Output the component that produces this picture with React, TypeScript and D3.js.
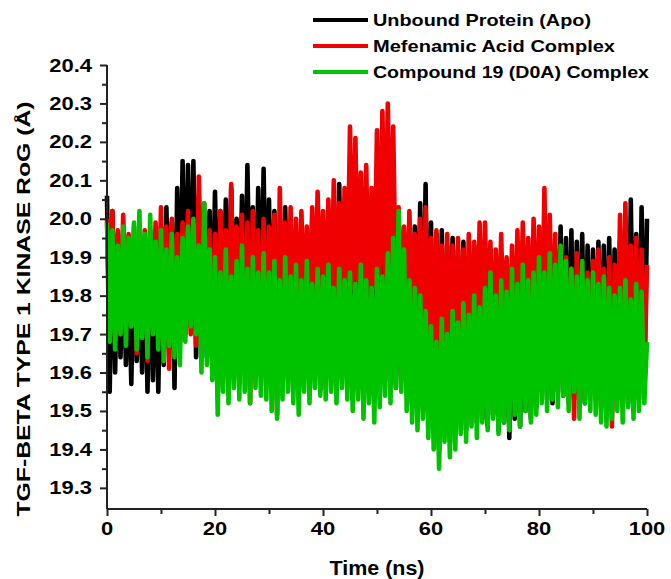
import * as d3 from 'd3';
import React, { useRef, useEffect } from 'react';

// RoG values every 0.5 ns (0 .. 100 ns)
const apo = [
  20.06, 19.55, 20.02, 19.60, 19.96, 19.64, 19.93, 19.62, 19.90, 19.57,
  19.94, 19.63, 19.92, 19.60, 19.95, 19.55, 19.97, 19.58, 19.93, 19.55,
  19.98, 19.62, 20.03, 19.66, 19.99, 19.56, 20.08, 19.68, 20.15, 19.70,
  20.14, 19.72, 20.15, 19.64, 20.06, 19.66, 19.99, 19.64, 20.02, 19.68,
  20.07, 19.70, 20.02, 19.66, 20.05, 19.68, 20.08, 19.72, 20.00, 19.70,
  20.06, 19.68, 20.14, 19.72, 20.03, 19.66, 20.08, 19.70, 20.13, 19.68,
  20.05, 19.64, 20.02, 19.60, 19.98, 19.62, 20.03, 19.66, 19.97, 19.64,
  19.96, 19.62, 19.98, 19.60, 19.95, 19.58, 19.99, 19.63, 20.00, 19.555,
  19.98, 19.62, 19.96, 19.60, 20.01, 19.64, 20.09, 19.60, 19.98, 19.58,
  19.97, 19.53, 19.99, 19.60, 19.96, 19.62, 20.00, 19.58, 19.98, 19.60,
  19.97, 19.62, 20.00, 19.58, 19.96, 19.60, 19.98, 19.56, 19.95, 19.58,
  19.96, 19.56, 19.94, 19.52, 19.98, 19.58, 20.04, 19.55, 20.09, 19.50,
  19.99, 19.45, 19.96, 19.40, 19.97, 19.44, 19.93, 19.42, 19.95, 19.46,
  19.92, 19.48, 19.94, 19.45, 19.90, 19.50, 19.93, 19.47, 19.91, 19.48,
  19.90, 19.46, 19.92, 19.49, 19.88, 19.45, 19.91, 19.47, 19.89, 19.43,
  19.88, 19.48, 19.90, 19.46, 19.88, 19.50, 19.92, 19.48, 19.90, 19.51,
  19.93, 19.55, 19.91, 19.53, 19.94, 19.52, 19.92, 19.55, 19.98, 19.54,
  19.95, 19.56, 19.97, 19.53, 19.94, 19.55, 19.96, 19.52, 19.93, 19.55,
  19.92, 19.53, 19.94, 19.51, 19.93, 19.54, 19.95, 19.50, 19.92, 19.53,
  19.94, 19.54, 19.98, 19.52, 20.05, 19.55, 19.96, 19.53, 20.03, 19.56,
  20.00
];

const mefenamic = [
  20.00, 19.72, 20.02, 19.68, 19.97, 19.70, 20.01, 19.75, 19.96, 19.72,
  19.98, 19.65, 19.94, 19.70, 19.97, 19.63, 19.95, 19.72, 19.99, 19.68,
  20.03, 19.66, 19.98, 19.61, 20.00, 19.70, 19.96, 19.68, 19.99, 19.72,
  20.02, 19.70, 19.98, 19.67, 20.11, 19.74, 20.04, 19.68, 19.97, 19.62,
  19.96, 19.60, 20.02, 19.65, 19.97, 19.62, 20.09, 19.70, 19.98, 19.57,
  20.01, 19.64, 19.99, 19.52, 20.02, 19.66, 19.97, 19.60, 20.00, 19.65,
  19.98, 19.62, 20.01, 19.49, 20.08, 19.70, 19.99, 19.66, 20.03, 19.72,
  20.00, 19.70, 20.02, 19.74, 19.98, 19.72, 20.03, 19.75, 20.07, 19.78,
  20.02, 19.76, 20.05, 19.73, 20.10, 19.78, 20.04, 19.75, 20.08, 19.80,
  20.24, 19.82, 20.21, 19.78, 20.12, 19.80, 20.14, 19.76, 20.08, 19.82,
  20.23, 19.80, 20.28, 19.84, 20.30, 19.86, 20.24, 19.78, 20.03, 19.75,
  19.98, 19.72, 20.02, 19.70, 19.96, 19.68, 20.00, 19.66, 20.03, 19.70,
  19.95, 19.62, 19.97, 19.58, 19.93, 19.60, 19.96, 19.64, 19.93, 19.61,
  19.95, 19.63, 19.92, 19.60, 19.96, 19.66, 19.94, 19.62, 19.99, 19.65,
  19.99, 19.68, 19.94, 19.64, 19.92, 19.66, 19.96, 19.62, 19.90, 19.60,
  19.93, 19.63, 19.97, 19.66, 19.99, 19.68, 19.95, 19.65, 20.00, 19.64,
  19.98, 19.62, 20.08, 19.66, 20.01, 19.60, 19.96, 19.58, 19.92, 19.55,
  19.90, 19.52, 19.87, 19.48, 19.91, 19.56, 19.88, 19.53, 19.86, 19.55,
  19.89, 19.58, 19.92, 19.54, 19.87, 19.50, 19.90, 19.46, 19.88, 19.55,
  20.01, 19.58, 20.04, 19.62, 19.93, 19.56, 19.95, 19.60, 19.92, 19.58,
  19.88
];

const compound19 = [
  19.99, 19.68, 19.97, 19.66, 19.93, 19.70, 19.98, 19.67, 19.95, 19.72,
  19.99, 19.66, 20.02, 19.69, 19.96, 19.64, 20.01, 19.70, 19.94, 19.66,
  19.97, 19.63, 19.92, 19.67, 19.96, 19.64, 19.90, 19.62, 19.95, 19.68,
  19.98, 19.72, 20.00, 19.70, 19.93, 19.60, 20.04, 19.62, 19.92, 19.58,
  19.90, 19.49, 19.86, 19.55, 19.92, 19.52, 19.85, 19.56, 19.89, 19.53,
  19.93, 19.55, 19.87, 19.52, 19.90, 19.56, 19.86, 19.54, 19.91, 19.53,
  19.86, 19.50, 19.89, 19.48, 19.84, 19.53, 19.90, 19.55, 19.85, 19.52,
  19.88, 19.49, 19.84, 19.55, 19.89, 19.52, 19.83, 19.56, 19.87, 19.54,
  19.85, 19.53, 19.88, 19.55, 19.82, 19.52, 19.87, 19.56, 19.84, 19.53,
  19.86, 19.50, 19.83, 19.53, 19.88, 19.48, 19.84, 19.52, 19.82, 19.47,
  19.87, 19.51, 19.85, 19.54, 19.91, 19.52, 19.95, 19.56, 20.02, 19.55,
  19.92, 19.50, 19.84, 19.47, 19.82, 19.45, 19.80, 19.48, 19.76, 19.43,
  19.72, 19.40, 19.68, 19.35, 19.74, 19.42, 19.70, 19.38, 19.76, 19.40,
  19.73, 19.44, 19.78, 19.42, 19.75, 19.46, 19.80, 19.43, 19.77, 19.47,
  19.82, 19.45, 19.86, 19.48, 19.80, 19.44, 19.84, 19.47, 19.81, 19.45,
  19.87, 19.49, 19.83, 19.46, 19.88, 19.50, 19.84, 19.47, 19.86, 19.49,
  19.90, 19.52, 19.86, 19.50, 19.91, 19.53, 19.88, 19.51, 19.93, 19.54,
  19.89, 19.50, 19.87, 19.55, 19.85, 19.48, 19.89, 19.52, 19.84, 19.50,
  19.86, 19.49, 19.83, 19.47, 19.85, 19.46, 19.82, 19.48, 19.80, 19.50,
  19.82, 19.47, 19.84, 19.51, 19.79, 19.48, 19.83, 19.50, 19.81, 19.52,
  19.68
];

const timeStep = 0.5;
const xTicks = [0, 20, 40, 60, 80, 100];
const xMinor = [10, 30, 50, 70, 90];
const yTicks = [19.3, 19.4, 19.5, 19.6, 19.7, 19.8, 19.9, 20.0, 20.1, 20.2, 20.3, 20.4];
const yMinor = [19.35, 19.45, 19.55, 19.65, 19.75, 19.85, 19.95, 20.05, 20.15, 20.25, 20.35];

const seriesNames = ['Unbound Protein (Apo)', 'Mefenamic Acid Complex', 'Compound 19 (D0A) Complex'];
const seriesColors = ['#000000', '#f00000', '#00c300'];
const legendWidths = [218, 242, 276];

const font = '"Liberation Sans", Arial, sans-serif';

function RogChart() {
  const ref = useRef(null);

  const x = d3.scaleLinear().domain([0, 100]).range([107, 647]);
  const y = d3.scaleLinear().domain([19.245, 20.4]).range([509, 65]);

  const line = d3.line()
    .x((d, i) => x(i * timeStep))
    .y((d) => y(d));

  useEffect(() => {
    const svg = d3.select(ref.current);
    svg.selectAll('.axis').remove();

    const yAxis = svg.append('g').attr('class', 'axis')
      .attr('transform', 'translate(107,0)')
      .call(d3.axisLeft(y).tickValues(yTicks).tickSize(7).tickFormat(() => ''));
    svg.append('g').attr('class', 'axis')
      .attr('transform', 'translate(107,0)')
      .call(d3.axisLeft(y).tickValues(yMinor).tickSize(5).tickFormat(() => ''))
      .select('.domain').remove();

    const xAxis = svg.append('g').attr('class', 'axis')
      .attr('transform', 'translate(0,509)')
      .call(d3.axisBottom(x).tickValues(xTicks).tickSize(7).tickFormat(() => ''));
    svg.append('g').attr('class', 'axis')
      .attr('transform', 'translate(0,509)')
      .call(d3.axisBottom(x).tickValues(xMinor).tickSize(5).tickFormat(() => ''))
      .select('.domain').remove();

    svg.selectAll('.axis path, .axis line')
      .attr('stroke', '#222')
      .attr('stroke-width', 2);
    yAxis.select('.domain').attr('d', 'M0,65V509');
    xAxis.select('.domain').attr('d', 'M107,0H647');

    // tick labels, slightly wide like the original
    yTicks.forEach((t) => {
      svg.append('text').attr('class', 'axis')
        .attr('transform', `translate(92,${y(t) + 6.5}) scale(1.22,1)`)
        .attr('text-anchor', 'end')
        .attr('font-family', font)
        .attr('font-weight', 'bold')
        .attr('font-size', 18)
        .text(d3.format('.1f')(t));
    });
    xTicks.forEach((t) => {
      svg.append('text').attr('class', 'axis')
        .attr('transform', `translate(${x(t)},535) scale(1.22,1)`)
        .attr('text-anchor', 'middle')
        .attr('font-family', font)
        .attr('font-weight', 'bold')
        .attr('font-size', 18)
        .text(t);
    });
  }, []);

  const series = [apo, mefenamic, compound19];

  return (
    <svg ref={ref} width={671} height={579}
      style={{ position: 'absolute', left: 0, top: 0, background: '#fff' }}>
      {series.map((s, k) => (
        <path key={k} d={line(s)} fill="none" stroke={seriesColors[k]}
          strokeWidth={4.6} strokeLinejoin="round" />
      ))}

      {seriesNames.map((name, k) => (
        <g key={name}>
          <line x1={313} x2={368} y1={20 + k * 26} y2={20 + k * 26}
            stroke={seriesColors[k]} strokeWidth={4} />
          <text x={373} y={26 + k * 26} fontFamily={font} fontWeight="bold" fontSize={17}
            textLength={legendWidths[k]} lengthAdjust="spacingAndGlyphs">{name}</text>
        </g>
      ))}

      <text x={377} y={575} textAnchor="middle" fontFamily={font} fontWeight="bold" fontSize={21}
        textLength={95} lengthAdjust="spacingAndGlyphs">Time (ns)</text>
      <text transform="translate(30,309) rotate(-90)" textAnchor="middle" fontFamily={font}
        fontWeight="bold" fontSize={19} textLength={415} lengthAdjust="spacingAndGlyphs">
        TGF-BETA TYPE 1 KINASE RoG (Å)
      </text>
    </svg>
  );
}

export default function App() {
  return <RogChart />;
}
